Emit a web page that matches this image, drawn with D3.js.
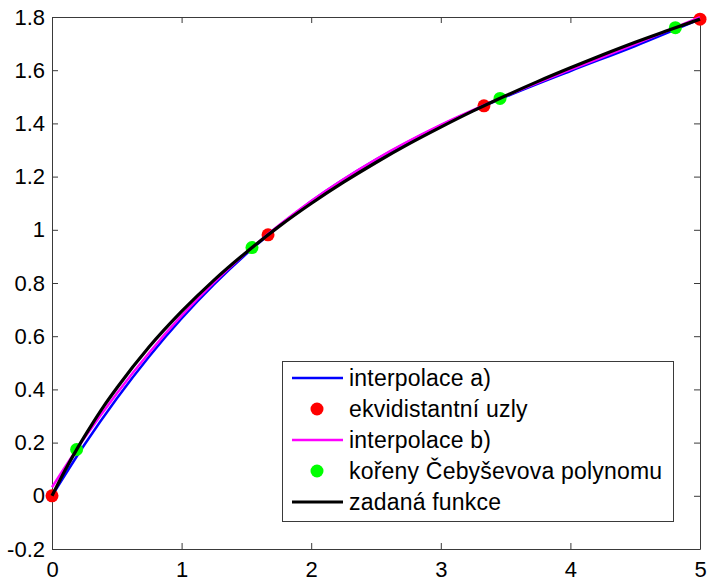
<!DOCTYPE html>
<html>
<head>
<meta charset="utf-8">
<script src="https://cdn.jsdelivr.net/npm/d3@7"></script>
<style>
  body { margin: 0; background: #fff; }
  svg text { font-family: "Liberation Sans", Arial, sans-serif; fill: #000; }
</style>
</head>
<body>
<svg id="chart" width="708" height="583"></svg>
<script>
// given function (black)
const fnX = [0, 0.1, 0.2, 0.3, 0.4, 0.5, 0.75, 1, 1.25, 1.5, 1.75, 2, 2.25, 2.5, 2.75, 3, 3.25, 3.5, 3.75, 4, 4.25, 4.5, 4.75, 5]
const fnY = [0, 0.095, 0.182, 0.262, 0.337, 0.405, 0.56, 0.693, 0.811, 0.916, 1.012, 1.099, 1.179, 1.253, 1.322, 1.386, 1.447, 1.504, 1.558, 1.609, 1.658, 1.705, 1.749, 1.792]

// interpolation curves
const interpX = [0, 0.25, 0.5, 0.75, 1, 1.25, 1.5, 2, 2.5, 3, 3.5, 4, 4.5, 5]
const interpA = [0, 0.192, 0.366, 0.524, 0.667, 0.795, 0.91, 1.107, 1.264, 1.393, 1.5, 1.597, 1.691, 1.792]
const interpB = [0.032, 0.217, 0.385, 0.538, 0.677, 0.802, 0.915, 1.108, 1.265, 1.394, 1.503, 1.602, 1.698, 1.799]

// nodes
const equiX = [0, 1.667, 3.333, 5]
const equiY = [0, 0.981, 1.466, 1.792]
const chebX = [0.19, 1.543, 3.457, 4.81]
const chebY = [0.174, 0.933, 1.494, 1.76]

const xTicks = [0, 1, 2, 3, 4, 5]
const yTicks = [-0.2, 0, 0.2, 0.4, 0.6, 0.8, 1, 1.2, 1.4, 1.6, 1.8]

const legendLabels = ['interpolace a)', 'ekvidistantní uzly', 'interpolace b)', 'kořeny Čebyševova polynomu', 'zadaná funkce']

const plotLeft = 52, plotRight = 700, plotTop = 17, plotBottom = 549
const svg = d3.select('#chart')

const x = d3.scaleLinear().domain([0, 5]).range([plotLeft, plotRight])
const y = d3.scaleLinear().domain([-0.2, 1.8]).range([plotBottom, plotTop])

const axisColor = '#3a3a3a'

// axes box with inward ticks
const fmt = d => String(d)
svg.append('g').attr('transform', `translate(0,${plotBottom})`)
  .call(d3.axisBottom(x).tickValues(xTicks).tickSizeInner(-6).tickSizeOuter(0).tickPadding(12).tickFormat(fmt))
svg.append('g').attr('transform', `translate(0,${plotTop})`)
  .call(d3.axisTop(x).tickValues(xTicks).tickSizeInner(-6).tickSizeOuter(0).tickFormat(''))
svg.append('g').attr('transform', `translate(${plotLeft},0)`)
  .call(d3.axisLeft(y).tickValues(yTicks).tickSizeInner(-6).tickSizeOuter(0).tickPadding(7).tickFormat(fmt))
svg.append('g').attr('transform', `translate(${plotRight},0)`)
  .call(d3.axisRight(y).tickValues(yTicks).tickSizeInner(-6).tickSizeOuter(0).tickFormat(''))

svg.selectAll('.domain').attr('stroke', axisColor)
svg.selectAll('.tick line').attr('stroke', axisColor)
svg.selectAll('.tick text').style('font-size', '22px')

const line = d3.line().x(d => x(d[0])).y(d => y(d[1])).curve(d3.curveMonotoneX)

svg.append('path').datum(d3.zip(interpX, interpA)).attr('d', line)
  .attr('fill', 'none').attr('stroke', '#0000ff').attr('stroke-width', 2.5)
svg.selectAll('.equi').data(d3.zip(equiX, equiY)).enter().append('circle').attr('class', 'equi')
  .attr('cx', d => x(d[0])).attr('cy', d => y(d[1])).attr('r', 6.5).attr('fill', '#ff0000')
svg.append('path').datum(d3.zip(interpX, interpB)).attr('d', line)
  .attr('fill', 'none').attr('stroke', '#ff00ff').attr('stroke-width', 2.5)
svg.selectAll('.cheb').data(d3.zip(chebX, chebY)).enter().append('circle').attr('class', 'cheb')
  .attr('cx', d => x(d[0])).attr('cy', d => y(d[1])).attr('r', 6.5).attr('fill', '#00ff00')
svg.append('path').datum(d3.zip(fnX, fnY)).attr('d', line)
  .attr('fill', 'none').attr('stroke', '#000').attr('stroke-width', 3.2)

// legend
const legend = svg.append('g')
legend.append('rect').attr('x', 282.5).attr('y', 361.5).attr('width', 391).attr('height', 160)
  .attr('fill', '#fff').attr('stroke', axisColor).attr('stroke-width', 1)
const legendStyle = [
  { type: 'line', color: '#0000ff' },
  { type: 'dot', color: '#ff0000' },
  { type: 'line', color: '#ff00ff' },
  { type: 'dot', color: '#00ff00' },
  { type: 'line', color: '#000' }
]
legendLabels.forEach((label, i) => {
  const cy = 378 + i * 31
  const s = legendStyle[i]
  if (s.type === 'line') {
    legend.append('line').attr('x1', 292).attr('x2', 343).attr('y1', cy).attr('y2', cy)
      .attr('stroke', s.color).attr('stroke-width', i === 4 ? 3.2 : 2.5)
  } else {
    legend.append('circle').attr('cx', 317).attr('cy', cy).attr('r', 6.5).attr('fill', s.color)
  }
  legend.append('text').attr('x', 349).attr('y', cy + 8).style('font-size', '23px')
    .style('letter-spacing', '0.2px').text(label)
})
</script>
</body>
</html>
